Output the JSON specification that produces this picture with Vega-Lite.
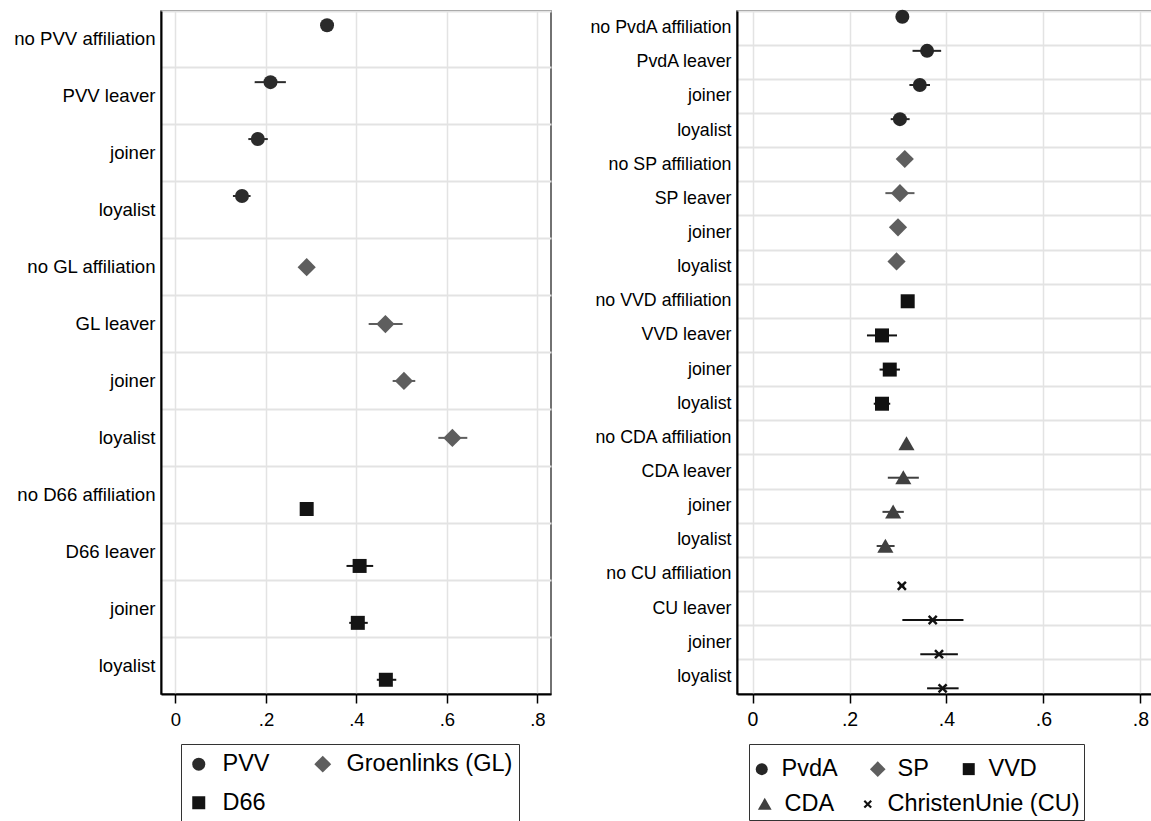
{
  "$schema": "https://vega.github.io/schema/vega-lite/v6.json",
  "padding": {"left": 12, "top": 8, "right": 0, "bottom": 0},
  "background": "white",
  "config": {
    "font": "Liberation Sans",
    "view": {"stroke": "#444444", "strokeWidth": 1.5},
    "axis": {"labelColor": "black", "titleColor": "black"},
    "legend": {"labelColor": "black"}
  },
  "datasets": {
    "left": [
      {"key": "PVV|no PVV affiliation", "series": "PVV", "est": 0.335, "lo": 0.329, "hi": 0.341},
      {"key": "PVV|PVV leaver", "series": "PVV", "est": 0.210, "lo": 0.175, "hi": 0.244},
      {"key": "PVV|joiner", "series": "PVV", "est": 0.182, "lo": 0.161, "hi": 0.204},
      {"key": "PVV|loyalist", "series": "PVV", "est": 0.147, "lo": 0.127, "hi": 0.166},
      {"key": "GL|no GL affiliation", "series": "Groenlinks (GL)", "est": 0.290, "lo": 0.284, "hi": 0.296},
      {"key": "GL|GL leaver", "series": "Groenlinks (GL)", "est": 0.464, "lo": 0.427, "hi": 0.502},
      {"key": "GL|joiner", "series": "Groenlinks (GL)", "est": 0.505, "lo": 0.480, "hi": 0.530},
      {"key": "GL|loyalist", "series": "Groenlinks (GL)", "est": 0.612, "lo": 0.581, "hi": 0.645},
      {"key": "D66|no D66 affiliation", "series": "D66", "est": 0.290, "lo": 0.284, "hi": 0.296},
      {"key": "D66|D66 leaver", "series": "D66", "est": 0.407, "lo": 0.378, "hi": 0.437},
      {"key": "D66|joiner", "series": "D66", "est": 0.403, "lo": 0.384, "hi": 0.425},
      {"key": "D66|loyalist", "series": "D66", "est": 0.465, "lo": 0.445, "hi": 0.488}
    ],
    "right": [
      {"key": "PvdA|no PvdA affiliation", "series": "PvdA", "est": 0.309, "lo": 0.303, "hi": 0.315},
      {"key": "PvdA|PvdA leaver", "series": "PvdA", "est": 0.360, "lo": 0.330, "hi": 0.389},
      {"key": "PvdA|joiner", "series": "PvdA", "est": 0.345, "lo": 0.3235, "hi": 0.366},
      {"key": "PvdA|loyalist", "series": "PvdA", "est": 0.304, "lo": 0.285, "hi": 0.324},
      {"key": "SP|no SP affiliation", "series": "SP", "est": 0.314, "lo": 0.308, "hi": 0.320},
      {"key": "SP|SP leaver", "series": "SP", "est": 0.304, "lo": 0.274, "hi": 0.334},
      {"key": "SP|joiner", "series": "SP", "est": 0.300, "lo": 0.288, "hi": 0.312},
      {"key": "SP|loyalist", "series": "SP", "est": 0.297, "lo": 0.285, "hi": 0.309},
      {"key": "VVD|no VVD affiliation", "series": "VVD", "est": 0.320, "lo": 0.314, "hi": 0.326},
      {"key": "VVD|VVD leaver", "series": "VVD", "est": 0.267, "lo": 0.236, "hi": 0.298},
      {"key": "VVD|joiner", "series": "VVD", "est": 0.283, "lo": 0.262, "hi": 0.304},
      {"key": "VVD|loyalist", "series": "VVD", "est": 0.267, "lo": 0.250, "hi": 0.284},
      {"key": "CDA|no CDA affiliation", "series": "CDA", "est": 0.3175, "lo": 0.312, "hi": 0.323},
      {"key": "CDA|CDA leaver", "series": "CDA", "est": 0.311, "lo": 0.279, "hi": 0.343},
      {"key": "CDA|joiner", "series": "CDA", "est": 0.290, "lo": 0.268, "hi": 0.312},
      {"key": "CDA|loyalist", "series": "CDA", "est": 0.274, "lo": 0.256, "hi": 0.293},
      {"key": "CU|no CU affiliation", "series": "ChristenUnie (CU)", "est": 0.308, "lo": 0.303, "hi": 0.313},
      {"key": "CU|CU leaver", "series": "ChristenUnie (CU)", "est": 0.3716, "lo": 0.309, "hi": 0.435},
      {"key": "CU|joiner", "series": "ChristenUnie (CU)", "est": 0.3846, "lo": 0.346, "hi": 0.4235},
      {"key": "CU|loyalist", "series": "ChristenUnie (CU)", "est": 0.392, "lo": 0.360, "hi": 0.425}
    ]
  },
  "bounds": "flush",
  "spacing": 186,
  "resolve": {
    "scale": {"x": "independent", "y": "independent", "color": "independent", "shape": "independent", "stroke": "independent", "yOffset": "independent"},
    "legend": {"color": "independent", "shape": "independent"}
  },
  "hconcat": [
    {
      "width": 390,
      "height": 683,
      "data": {"name": "left"},
      "resolve": {"axis": {"y": "independent"}},
      "layer": [
        {
          "mark": {"type": "rule", "strokeWidth": 2},
          "encoding": {
            "y": {"field": "key", "type": "nominal", "sort": null,
              "scale": {"paddingInner": 0, "paddingOuter": 0},
              "axis": {"orient": "left", "grid": true, "bandPosition": 0, "labels": false, "ticks": false, "domain": false, "title": null, "gridColor": "#e3e3e3", "gridWidth": 2}},
            "yOffset": {"field": "series", "type": "nominal", "scale": {"domain": ["PVV", "Groenlinks (GL)", "D66"], "paddingInner": 0, "paddingOuter": 0.5}},
            "x": {"field": "lo", "type": "quantitative",
              "scale": {"domain": [-0.032, 0.83], "nice": false, "zero": false},
              "axis": {"values": [0, 0.2, 0.4, 0.6, 0.8], "labelExpr": "datum.value == 0 ? '0' : replace(format(datum.value, '.1f'), '0.', '.')", "grid": true, "gridColor": "#e3e3e3", "gridWidth": 1.5, "tickSize": 9, "tickColor": "black", "tickWidth": 1.5, "domainColor": "black", "domainWidth": 2, "labelFontSize": 18.5, "labelPadding": 7, "title": null}},
            "x2": {"field": "hi"},
            "stroke": {"field": "series", "type": "nominal", "legend": null,
              "scale": {"domain": ["D66", "Groenlinks (GL)", "PVV"], "range": ["#141414", "#5e5e5e", "#2b2b2b"]}}
          }
        },
        {
          "mark": {"type": "point", "filled": true, "size": 196, "opacity": 1},
          "encoding": {
            "y": {"field": "key", "type": "nominal", "sort": null,
              "axis": {"orient": "left", "grid": false, "labelExpr": "split(datum.label, '|')[1]", "ticks": false, "domain": true, "domainColor": "black", "domainWidth": 2, "title": null, "labelFontSize": 18.6, "labelPadding": 6, "labelLimit": 300}},
            "yOffset": {"field": "series", "type": "nominal"},
            "x": {"field": "est", "type": "quantitative",
              "axis": {"values": [0, 0.2, 0.4, 0.6, 0.8], "labelExpr": "datum.value == 0 ? '0' : replace(format(datum.value, '.1f'), '0.', '.')", "grid": true, "gridColor": "#e3e3e3", "gridWidth": 1.5, "tickSize": 9, "tickColor": "black", "tickWidth": 1.5, "domainColor": "black", "domainWidth": 2, "labelFontSize": 18.5, "labelPadding": 7, "title": null}},
            "shape": {"field": "series", "type": "nominal",
              "scale": {"domain": ["PVV", "Groenlinks (GL)", "D66"], "range": ["circle", "M0,-1.3L1.3,0L0,1.3L-1.3,0Z", "square"]},
              "legend": {"orient": "none", "legendX": 20, "legendY": 733, "direction": "horizontal", "columns": 2, "title": " ", "titleFontSize": 2, "titlePadding": 0, "labelFontSize": 23.5, "labelLimit": 300, "symbolSize": 169, "symbolStrokeWidth": 0, "labelOffset": 12, "columnPadding": 41, "rowPadding": 14, "padding": 6, "strokeColor": "#333333"}},
            "color": {"field": "series", "type": "nominal",
              "scale": {"domain": ["PVV", "Groenlinks (GL)", "D66"], "range": ["#2b2b2b", "#5e5e5e", "#141414"]},
              "legend": {"orient": "none", "legendX": 20, "legendY": 733, "direction": "horizontal", "columns": 2, "title": " ", "titleFontSize": 2, "titlePadding": 0, "labelFontSize": 23.5, "labelLimit": 300, "symbolSize": 169, "symbolStrokeWidth": 0, "labelOffset": 12, "columnPadding": 41, "rowPadding": 14, "padding": 6, "strokeColor": "#333333"}}
          }
        }
      ]
    },
    {
      "width": 418,
      "height": 683,
      "data": {"name": "right"},
      "resolve": {
        "axis": {"y": "independent"},
        "scale": {"color": "independent", "shape": "independent"},
        "legend": {"color": "independent", "shape": "independent"}
      },
      "layer": [
        {
          "mark": {"type": "rule", "strokeWidth": 2},
          "encoding": {
            "y": {"field": "key", "type": "nominal", "sort": null,
              "scale": {"paddingInner": 0, "paddingOuter": 0,
                "domain": ["PvdA|no PvdA affiliation", "PvdA|PvdA leaver", "PvdA|joiner", "PvdA|loyalist", "SP|no SP affiliation", "SP|SP leaver", "SP|joiner", "SP|loyalist", "VVD|no VVD affiliation", "VVD|VVD leaver", "VVD|joiner", "VVD|loyalist", "CDA|no CDA affiliation", "CDA|CDA leaver", "CDA|joiner", "CDA|loyalist", "CU|no CU affiliation", "CU|CU leaver", "CU|joiner", "CU|loyalist"]},
              "axis": {"orient": "left", "grid": true, "bandPosition": 0, "labels": false, "ticks": false, "domain": false, "title": null, "gridColor": "#e3e3e3", "gridWidth": 2}},
            "yOffset": {"field": "series", "type": "nominal", "scale": {"domain": ["PvdA", "SP", "VVD", "CDA", "ChristenUnie (CU)"], "paddingInner": 0, "paddingOuter": 0.5}},
            "x": {"field": "lo", "type": "quantitative",
              "scale": {"domain": [-0.032, 0.83], "nice": false, "zero": false},
              "axis": {"values": [0, 0.2, 0.4, 0.6, 0.8], "labelExpr": "datum.value == 0 ? '0' : replace(format(datum.value, '.1f'), '0.', '.')", "grid": true, "gridColor": "#e3e3e3", "gridWidth": 1.5, "tickSize": 9, "tickColor": "black", "tickWidth": 1.5, "domainColor": "black", "domainWidth": 2, "labelFontSize": 19.5, "labelPadding": 7, "title": null}},
            "x2": {"field": "hi"},
            "stroke": {"field": "series", "type": "nominal", "legend": null,
              "scale": {"domain": ["ChristenUnie (CU)", "CDA", "VVD", "SP", "PvdA"], "range": ["#111111", "#404040", "#111111", "#5e5e5e", "#262626"]}}
          }
        },
        {
          "transform": [{"filter": {"field": "series", "oneOf": ["PvdA", "SP", "VVD"]}}],
          "mark": {"type": "point", "filled": true, "size": 196, "opacity": 1},
          "encoding": {
            "y": {"field": "key", "type": "nominal", "sort": null,
              "axis": {"orient": "left", "grid": false, "labelExpr": "split(datum.label, '|')[1]", "ticks": false, "domain": true, "domainColor": "black", "domainWidth": 2, "title": null, "labelFontSize": 17.8, "labelPadding": 6, "labelLimit": 300}},
            "yOffset": {"field": "series", "type": "nominal"},
            "x": {"field": "est", "type": "quantitative",
              "axis": {"values": [0, 0.2, 0.4, 0.6, 0.8], "labelExpr": "datum.value == 0 ? '0' : replace(format(datum.value, '.1f'), '0.', '.')", "grid": true, "gridColor": "#e3e3e3", "gridWidth": 1.5, "tickSize": 9, "tickColor": "black", "tickWidth": 1.5, "domainColor": "black", "domainWidth": 2, "labelFontSize": 19.5, "labelPadding": 7, "title": null}},
            "shape": {"field": "series", "type": "nominal",
              "scale": {"domain": ["PvdA", "SP", "VVD"], "range": ["circle", "M0,-1.3L1.3,0L0,1.3L-1.3,0Z", "square"]},
              "legend": {"orient": "none", "legendX": 13, "legendY": 746, "direction": "horizontal", "columns": 3, "title": null, "labelFontSize": 23.5, "labelLimit": 300, "symbolSize": 144, "symbolStrokeWidth": 0, "labelOffset": 8, "columnPadding": 28, "padding": 0}},
            "color": {"field": "series", "type": "nominal",
              "scale": {"domain": ["PvdA", "SP", "VVD"], "range": ["#262626", "#5e5e5e", "#111111"]},
              "legend": {"orient": "none", "legendX": 13, "legendY": 746, "direction": "horizontal", "columns": 3, "title": null, "labelFontSize": 23.5, "labelLimit": 300, "symbolSize": 144, "symbolStrokeWidth": 0, "labelOffset": 8, "columnPadding": 28, "padding": 0}}
          }
        },
        {
          "transform": [{"filter": {"field": "series", "oneOf": ["CDA", "ChristenUnie (CU)"]}}],
          "mark": {"type": "point", "filled": true, "size": 196, "opacity": 1},
          "encoding": {
            "y": {"field": "key", "type": "nominal", "sort": null, "axis": null},
            "yOffset": {"field": "series", "type": "nominal"},
            "x": {"field": "est", "type": "quantitative",
              "axis": {"values": [0, 0.2, 0.4, 0.6, 0.8], "labelExpr": "datum.value == 0 ? '0' : replace(format(datum.value, '.1f'), '0.', '.')", "grid": true, "gridColor": "#e3e3e3", "gridWidth": 1.5, "tickSize": 9, "tickColor": "black", "tickWidth": 1.5, "domainColor": "black", "domainWidth": 2, "labelFontSize": 19.5, "labelPadding": 7, "title": null}},
            "shape": {"field": "series", "type": "nominal",
              "scale": {"domain": ["CDA", "ChristenUnie (CU)"], "range": ["M0,-1.05L1.15,0.95L-1.15,0.95Z", "M-0.7,-0.45L-0.45,-0.7L0,-0.25L0.45,-0.7L0.7,-0.45L0.25,0L0.7,0.45L0.45,0.7L0,0.25L-0.45,0.7L-0.7,0.45L-0.25,0Z"]},
              "legend": {"orient": "none", "legendX": 12, "legendY": 733, "direction": "horizontal", "columns": 2, "title": " ", "titleFontSize": 34, "titlePadding": 10, "labelFontSize": 23.5, "labelLimit": 300, "symbolSize": 144, "symbolStrokeWidth": 0, "labelOffset": 8, "columnPadding": 21, "padding": 4, "strokeColor": "#333333"}},
            "color": {"field": "series", "type": "nominal",
              "scale": {"domain": ["CDA", "ChristenUnie (CU)"], "range": ["#404040", "#111111"]},
              "legend": {"orient": "none", "legendX": 12, "legendY": 733, "direction": "horizontal", "columns": 2, "title": " ", "titleFontSize": 34, "titlePadding": 10, "labelFontSize": 23.5, "labelLimit": 300, "symbolSize": 144, "symbolStrokeWidth": 0, "labelOffset": 8, "columnPadding": 21, "padding": 4, "strokeColor": "#333333"}}
          }
        }
      ]
    }
  ]
}
